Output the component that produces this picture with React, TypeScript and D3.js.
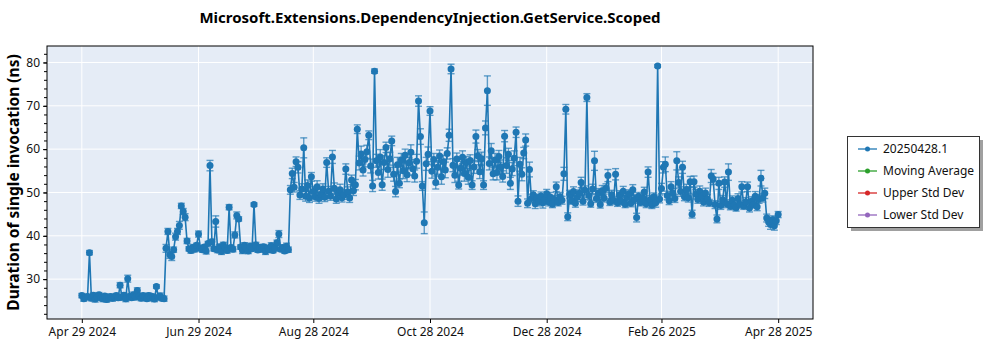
import React, { useEffect, useRef } from "react";
import * as d3 from "d3";

// values per month (one point per day)
const monthStarts = [
  "2024-04-29", "2024-05-01", "2024-06-01", "2024-07-01", "2024-08-01", "2024-09-01", "2024-10-01",
  "2024-11-01", "2024-12-01", "2025-01-01", "2025-02-01", "2025-03-01", "2025-04-01",
];

const apr2024 = [26.2, 25.5];
const may2024 = [
  25.8, 26.0, 36.1, 25.6, 26.3, 25.4, 25.9, 26.4, 25.7, 25.5, 26.1, 25.3, 25.8, 26.0, 25.6, 25.9,
  26.2, 25.7, 28.6, 25.8, 26.3, 25.5, 30.1, 26.0, 25.7, 26.4, 25.9, 27.4, 26.1, 25.6, 26.2,
];
const jun2024 = [
  25.9, 25.5, 26.2, 25.7, 26.0, 25.4, 28.3, 25.8, 26.1, 25.6, 25.5, 37.1, 41.0, 35.6, 35.2,
  36.8, 39.8, 41.0, 42.4, 46.9, 45.6, 44.3, 38.8, 37.0, 36.6, 37.3, 36.9, 37.8, 40.4, 37.1,
];
const jul2024 = [
  36.8, 37.4, 36.5, 38.2, 56.2, 38.6, 37.0, 43.3, 36.7, 37.5, 36.4, 37.9, 37.2, 36.6, 46.6, 37.3,
  36.9, 40.2, 44.7, 43.9, 37.4, 36.6, 37.8, 37.1, 36.5, 37.6, 37.0, 47.2, 37.9, 36.7, 37.3,
];
const aug2024 = [
  36.9, 37.5, 36.4, 37.2, 36.8, 37.7, 36.6, 37.1, 38.4, 40.4, 36.9, 37.3, 36.5, 37.6, 36.8, 50.6,
  54.4, 51.2, 57.1, 55.8, 49.4, 50.8, 60.3, 49.1, 51.6, 48.7, 53.6, 50.2, 49.0, 51.3, 48.6,
];
const sep2024 = [
  49.6, 50.8, 48.9, 56.9, 50.3, 49.2, 58.2, 51.0, 48.5, 49.8, 50.6, 48.8, 49.5, 55.4, 50.1,
  48.7, 52.9, 50.4, 51.8, 64.6, 56.8, 58.9, 55.2, 57.6, 59.4, 63.2, 56.1, 51.5, 78.0, 57.3,
];
const oct2024 = [
  54.6, 58.2, 51.8, 56.9, 60.4, 55.3, 57.8, 61.9, 54.2, 50.2, 56.4, 52.1, 57.5, 55.0, 58.6, 54.1,
  56.8, 59.3, 55.5, 53.8, 57.2, 71.1, 62.9, 51.5, 43.0, 56.6, 58.8, 68.8, 54.9, 57.6, 52.3,
];
const nov2024 = [
  55.8, 58.4, 53.6, 57.1, 55.2, 59.0, 63.2, 78.5, 56.3, 54.0, 57.7, 51.7, 55.6, 58.1, 54.4,
  56.9, 53.5, 57.4, 51.7, 55.9, 62.9, 58.5, 54.8, 57.8, 51.7, 64.9, 73.5, 56.7, 59.6, 54.3,
];
const dec2024 = [
  57.5, 54.6, 58.3, 55.9, 53.7, 63.0, 56.2, 58.8, 52.1, 55.4, 57.9, 63.9, 48.0, 56.5, 54.2, 59.1,
  62.1, 47.5, 55.3, 48.6, 49.5, 47.4, 48.8, 47.9, 49.2, 47.6, 48.3, 49.7, 47.8, 48.9, 47.3,
];
const jan2025 = [
  48.4, 51.3, 47.7, 49.0, 48.2, 54.3, 69.2, 44.4, 49.6, 48.1, 50.2, 47.5, 48.9, 49.8, 52.3, 48.0,
  50.5, 71.9, 49.3, 47.4, 50.8, 57.3, 48.6, 49.9, 47.2, 50.4, 48.7, 51.0, 53.9, 47.8, 49.5,
];
const feb2025 = [
  48.2, 54.2, 47.6, 49.4, 48.0, 50.3, 47.3, 48.9, 49.7, 47.5, 50.6, 48.4, 44.2, 49.1,
  47.7, 48.6, 50.1, 47.4, 54.7, 48.3, 47.1, 49.0, 47.6, 79.2, 48.5, 50.9, 55.8, 56.5,
];
const mar2025 = [
  49.3, 48.1, 51.3, 49.8, 48.6, 57.3, 52.3, 50.2, 55.8, 49.0, 50.7, 48.8, 52.5, 45.0, 52.5, 49.6,
  48.4, 50.3, 49.1, 47.8, 49.9, 48.5, 47.6, 53.8, 53.1, 47.2, 43.9, 52.1, 47.0, 48.3, 52.4,
];
const apr2025 = [
  47.4, 54.7, 46.8, 48.2, 47.1, 46.5, 48.6, 47.3, 51.3, 46.9, 47.8, 51.3, 46.4, 48.0,
  47.2, 49.1, 46.7, 48.5, 53.3, 48.8, 49.8, 44.1, 43.2, 42.6, 43.7, 42.3, 43.5, 44.9,
];

// error (std dev) per point
const apr2024Err = [0.5, 0.6];
const may2024Err = [
  0.6, 0.5, 0.5, 0.6, 0.5, 0.7, 0.6, 0.5, 0.6, 0.7, 0.5, 0.6, 0.6, 0.5, 0.7, 0.6,
  0.5, 0.6, 0.6, 0.6, 0.5, 0.7, 0.8, 0.6, 0.5, 0.6, 0.7, 0.6, 0.5, 0.6, 0.5,
];
const jun2024Err = [
  0.6, 0.5, 0.6, 0.7, 0.5, 0.6, 0.4, 0.5, 0.7, 0.6, 0.6, 0.9, 0.7, 0.8, 0.9,
  0.6, 0.8, 0.7, 0.9, 0.6, 0.7, 0.8, 0.6, 0.5, 0.6, 0.7, 0.6, 0.5, 0.7, 0.6,
];
const jul2024Err = [
  0.6, 0.5, 0.7, 0.5, 1.2, 0.6, 0.5, 1.3, 0.6, 0.5, 0.7, 0.6, 0.5, 0.6, 0.6, 0.5,
  0.6, 0.7, 0.8, 0.5, 0.5, 0.7, 0.6, 0.5, 0.6, 0.7, 0.5, 0.4, 0.6, 0.5, 0.7,
];
const aug2024Err = [
  0.6, 0.5, 0.7, 0.5, 0.6, 0.7, 0.5, 0.6, 0.6, 0.8, 0.5, 0.6, 0.5, 0.7, 0.6, 1.0,
  1.2, 1.1, 1.1, 1.3, 1.0, 1.2, 2.3, 1.1, 1.3, 1.0, 1.0, 1.1, 1.0, 1.4, 1.1,
];
const sep2024Err = [
  1.1, 1.2, 1.0, 1.1, 1.1, 1.0, 1.5, 1.2, 1.0, 1.1, 1.3, 1.0, 1.1, 1.2, 1.2,
  1.0, 1.1, 1.1, 1.2, 1.0, 1.6, 1.8, 1.4, 1.7, 1.5, 1.0, 1.6, 1.3, 0.5, 1.5,
];
const oct2024Err = [
  1.5, 1.7, 1.3, 1.6, 1.2, 1.8, 1.5, 1.1, 1.6, 1.2, 1.7, 1.0, 1.5, 1.8, 1.4, 1.6,
  1.3, 1.7, 1.5, 1.4, 1.6, 1.2, 1.8, 1.0, 2.5, 1.5, 1.7, 1.0, 1.6, 1.4, 1.5,
];
const nov2024Err = [
  1.6, 1.4, 1.7, 1.5, 1.8, 1.3, 1.4, 1.1, 1.5, 1.7, 1.4, 0.9, 1.6, 1.5, 1.8,
  1.4, 1.6, 1.3, 1.0, 1.5, 1.5, 1.4, 1.6, 1.5, 1.0, 1.6, 3.4, 1.5, 1.7, 1.4,
];
const dec2024Err = [
  1.5, 1.7, 1.4, 1.6, 1.3, 1.3, 1.8, 1.4, 1.4, 1.5, 1.7, 1.2, 1.2, 1.6, 1.5, 1.3,
  1.4, 1.0, 1.7, 1.0, 0.9, 1.1, 0.8, 1.0, 0.9, 1.2, 0.8, 1.0, 0.9, 1.1, 0.8,
];
const jan2025Err = [
  0.9, 1.1, 0.8, 1.0, 0.9, 1.5, 1.1, 0.9, 0.9, 0.8, 1.1, 0.9, 1.0, 0.8, 1.2, 0.9,
  1.0, 0.9, 0.9, 0.8, 1.1, 2.2, 0.9, 1.0, 0.8, 1.2, 0.9, 1.0, 1.4, 0.8, 1.0,
];
const feb2025Err = [
  0.9, 1.3, 0.8, 1.0, 0.9, 1.1, 0.8, 1.0, 0.9, 0.8, 1.2, 0.9, 1.0, 0.9,
  0.8, 1.0, 1.1, 0.9, 1.2, 1.0, 0.8, 0.9, 1.0, 0.3, 0.9, 1.2, 1.3, 1.7,
];
const mar2025Err = [
  1.0, 0.9, 1.2, 1.1, 0.9, 2.1, 1.3, 1.1, 1.4, 0.9, 1.2, 1.0, 1.2, 0.9, 1.3, 1.1,
  0.9, 1.2, 1.0, 0.9, 1.1, 1.0, 0.8, 1.5, 1.3, 0.9, 0.9, 1.4, 0.9, 1.0, 1.2,
];
const apr2025Err = [
  0.9, 1.9, 0.8, 1.0, 0.9, 0.8, 1.1, 0.9, 1.2, 0.8, 1.0, 1.1, 0.9, 1.0,
  0.8, 1.1, 0.9, 1.0, 1.8, 1.0, 1.2, 0.9, 1.0, 1.1, 0.9, 1.0, 0.9, 0.7,
];

const monthValues = [
  apr2024, may2024, jun2024, jul2024, aug2024, sep2024, oct2024,
  nov2024, dec2024, jan2025, feb2025, mar2025, apr2025,
];
const monthErrors = [
  apr2024Err, may2024Err, jun2024Err, jul2024Err, aug2024Err, sep2024Err, oct2024Err,
  nov2024Err, dec2024Err, jan2025Err, feb2025Err, mar2025Err, apr2025Err,
];

const xTickDates = ["2024-04-29", "2024-06-29", "2024-08-28", "2024-10-28", "2024-12-28", "2025-02-26", "2025-04-28"];
const yMajorTicks = [30, 40, 50, 60, 70, 80];
const yDomain = [20.8, 83.8];

const legendItems = [
  { label: "20250428.1", color: "#1f77b4" },
  { label: "Moving Average", color: "#2ca02c" },
  { label: "Upper Std Dev", color: "#d62728" },
  { label: "Lower Std Dev", color: "#9467bd" },
];

const title = "Microsoft.Extensions.DependencyInjection.GetService.Scoped";
const yTitle = "Duration of single invocation (ns)";

function App() {
  const svgRef = useRef(null);
  const width = 1000;
  const height = 350;

  useEffect(() => {
    const svg = d3.select(svgRef.current);
    svg.selectAll("*").remove();

    const font = "'Segoe UI', 'Noto Sans', 'DejaVu Sans', sans-serif";
    const margin = { top: 46, right: 187, bottom: 31, left: 47 };
    const parse = d3.timeParse("%Y-%m-%d");

    const data = [];
    monthStarts.forEach((s, m) => {
      const start = parse(s);
      monthValues[m].forEach((v, i) => {
        data.push({ date: d3.timeDay.offset(start, i), value: v, err: monthErrors[m][i] });
      });
    });

    const [d0, d1] = d3.extent(data, (d) => d.date);
    const pad = (d1 - d0) * 0.05;
    const x = d3
      .scaleTime()
      .domain([new Date(+d0 - pad), new Date(+d1 + pad)])
      .range([margin.left, width - margin.right]);
    const y = d3
      .scaleLinear()
      .domain(yDomain)
      .range([height - margin.bottom, margin.top]);

    const plotW = width - margin.left - margin.right;
    const plotH = height - margin.top - margin.bottom;

    // background
    svg
      .append("rect")
      .attr("x", margin.left)
      .attr("y", margin.top)
      .attr("width", plotW)
      .attr("height", plotH)
      .attr("fill", "#e5ecf6");

    const xTicks = xTickDates.map((s) => parse(s));

    // grid
    svg
      .append("g")
      .selectAll("line")
      .data(xTicks)
      .join("line")
      .attr("x1", (d) => x(d))
      .attr("x2", (d) => x(d))
      .attr("y1", margin.top)
      .attr("y2", height - margin.bottom)
      .attr("stroke", "white")
      .attr("stroke-width", 1);
    svg
      .append("g")
      .selectAll("line")
      .data(yMajorTicks)
      .join("line")
      .attr("x1", margin.left)
      .attr("x2", width - margin.right)
      .attr("y1", (d) => y(d))
      .attr("y2", (d) => y(d))
      .attr("stroke", "white")
      .attr("stroke-width", 1);

    const plot = svg.append("g");

    // error bars
    const eb = plot.append("g").attr("stroke", "#1f77b4").attr("stroke-opacity", 0.7).attr("stroke-width", 1.4);
    data.forEach((d) => {
      const cx = x(d.date);
      eb.append("line").attr("x1", cx).attr("x2", cx).attr("y1", y(d.value - d.err)).attr("y2", y(d.value + d.err));
      eb.append("line").attr("x1", cx - 3.5).attr("x2", cx + 3.5).attr("y1", y(d.value - d.err)).attr("y2", y(d.value - d.err));
      eb.append("line").attr("x1", cx - 3.5).attr("x2", cx + 3.5).attr("y1", y(d.value + d.err)).attr("y2", y(d.value + d.err));
    });

    // line
    const line = d3
      .line()
      .x((d) => x(d.date))
      .y((d) => y(d.value));
    plot
      .append("path")
      .datum(data)
      .attr("d", line)
      .attr("fill", "none")
      .attr("stroke", "#1f77b4")
      .attr("stroke-width", 1.6);

    // markers
    plot
      .append("g")
      .selectAll("circle")
      .data(data)
      .join("circle")
      .attr("cx", (d) => x(d.date))
      .attr("cy", (d) => y(d.value))
      .attr("r", 3.5)
      .attr("fill", "#1f77b4");

    // frame
    svg
      .append("rect")
      .attr("x", margin.left)
      .attr("y", margin.top)
      .attr("width", plotW)
      .attr("height", plotH)
      .attr("fill", "none")
      .attr("stroke", "black")
      .attr("stroke-width", 1);

    // x axis
    const xAxis = d3
      .axisBottom(x)
      .tickValues(xTicks)
      .tickFormat(d3.timeFormat("%b %d %Y"))
      .tickSize(4)
      .tickPadding(4);
    const gx = svg
      .append("g")
      .attr("transform", `translate(0,${height - margin.bottom})`)
      .call(xAxis);
    gx.select(".domain").remove();
    gx.selectAll("text").style("font-family", font).style("font-size", "12px").attr("fill", "#111");

    // y axis, minor ticks every 2
    const yMinor = d3.axisLeft(y).tickValues(d3.range(22, 84, 2)).tickSize(3).tickFormat(() => "");
    const gyMinor = svg.append("g").attr("transform", `translate(${margin.left},0)`).call(yMinor);
    gyMinor.select(".domain").remove();

    const yAxis = d3.axisLeft(y).tickValues(yMajorTicks).tickSize(4).tickPadding(3);
    const gy = svg.append("g").attr("transform", `translate(${margin.left},0)`).call(yAxis);
    gy.select(".domain").remove();
    gy.selectAll("text").style("font-family", font).style("font-size", "12px").attr("fill", "#111");

    // titles
    svg
      .append("text")
      .attr("x", margin.left + plotW / 2)
      .attr("y", 23)
      .attr("text-anchor", "middle")
      .style("font-family", font)
      .style("font-size", "15px")
      .style("font-weight", "bold")
      .text(title);

    svg
      .append("text")
      .attr("transform", `translate(19,${margin.top + plotH / 2}) rotate(-90)`)
      .attr("text-anchor", "middle")
      .style("font-family", font)
      .style("font-size", "15.5px")
      .style("font-weight", "bold")
      .text(yTitle);

    // legend
    const lg = svg.append("g").attr("transform", "translate(847,136)");
    lg.append("rect").attr("x", 4).attr("y", 4).attr("width", 132).attr("height", 91).attr("fill", "#a0a0a0");
    lg.append("rect")
      .attr("x", 0.5)
      .attr("y", 0.5)
      .attr("width", 132)
      .attr("height", 91)
      .attr("fill", "white")
      .attr("stroke", "#333")
      .attr("stroke-width", 1);
    const items = lg
      .selectAll(".item")
      .data(legendItems)
      .join("g")
      .attr("class", "item")
      .attr("transform", (d, i) => `translate(0,${13 + i * 22})`);
    items
      .append("line")
      .attr("x1", 11)
      .attr("x2", 30)
      .attr("stroke", (d) => d.color)
      .attr("stroke-width", 1.3);
    items.append("circle").attr("cx", 20.5).attr("r", 2.5).attr("fill", (d) => d.color);
    items
      .append("text")
      .attr("x", 36)
      .attr("dy", "0.35em")
      .style("font-family", font)
      .style("font-size", "12px")
      .attr("fill", "#111")
      .text((d) => d.label);
  }, []);

  return (
    <svg
      ref={svgRef}
      width={width}
      height={height}
      style={{ position: "absolute", left: 0, top: 0, background: "white" }}
    ></svg>
  );
}

export default App;
